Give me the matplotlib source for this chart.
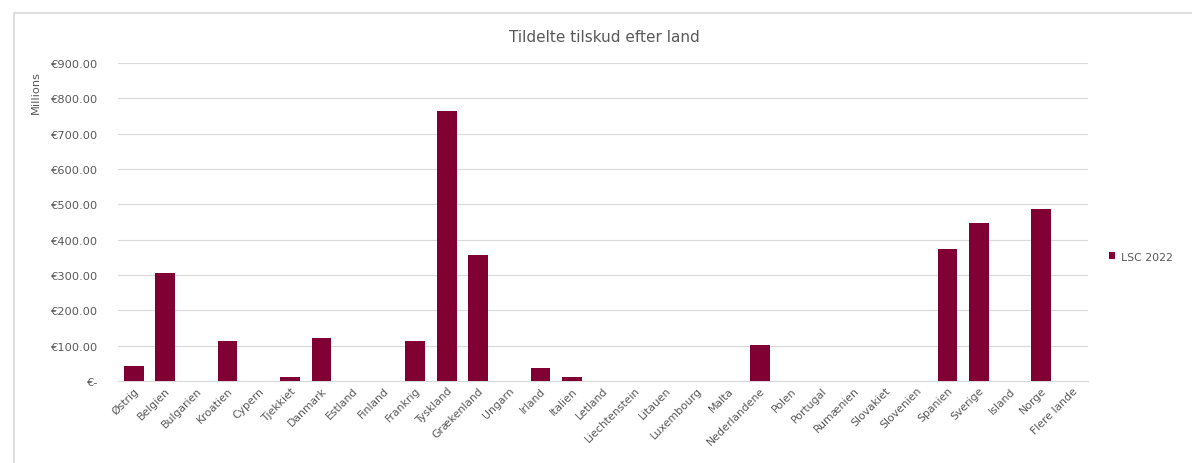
import matplotlib.pyplot as plt
from matplotlib.patches import Rectangle
from matplotlib.ticker import FuncFormatter

plt.rcParams['font.family'] = ['DejaVu Sans']

lande = ['Østrig', 'Belgien', 'Bulgarien', 'Kroatien', 'Cypern', 'Tjekkiet', 'Danmark',
         'Estland', 'Finland', 'Frankrig', 'Tyskland', 'Grækenland', 'Ungarn', 'Irland',
         'Italien', 'Letland', 'Liechtenstein', 'Litauen', 'Luxembourg', 'Malta',
         'Nederlandene', 'Polen', 'Portugal', 'Rumænien', 'Slovakiet', 'Slovenien',
         'Spanien', 'Sverige', 'Island', 'Norge', 'Flere lande']
lsc_2022 = [42, 306, 0, 113, 0, 11, 122, 0, 0, 113, 764, 357, 0, 37, 11, 0, 0, 0, 0, 0,
            102, 0, 0, 0, 0, 0, 374, 447, 0, 487, 0]

grey = '#595959'
fig = plt.figure(figsize=(11.92, 4.64), dpi=100)
ax = fig.add_axes([0.099, 0.177, 0.814, 0.685])

ax.bar(range(len(lande)), lsc_2022, width=0.63, color='#800033', label='LSC 2022', zorder=3)

ax.set_xlim(-0.5, len(lande) - 0.5)
ax.set_ylim(0, 900)
ax.set_yticks(range(0, 901, 100))
ax.yaxis.set_major_formatter(FuncFormatter(lambda v, p: '€-' if v == 0 else f'€{v:.2f}'))
ax.grid(axis='y', color='#d9d9d9', linewidth=0.8, zorder=0)
for s in ['top', 'right', 'left']:
    ax.spines[s].set_visible(False)
ax.spines['bottom'].set_color('#d9d9d9')
ax.tick_params(axis='y', length=0, labelsize=8.2, labelcolor=grey, pad=14)
ax.tick_params(axis='x', length=0, labelsize=7.8, labelcolor=grey, pad=3)
ax.set_xticks(range(len(lande)))
ax.set_xticklabels(lande, rotation=45, ha='right', rotation_mode='anchor')
ax.set_ylabel('Millions', fontsize=8.2, color=grey)
ax.yaxis.set_label_coords(-0.079, 0.91)

fig.text(0.507, 0.92, 'Tildelte tilskud efter land', ha='center', va='center',
         fontsize=11, color=grey)
fig.legend(loc='center left', bbox_to_anchor=(0.922, 0.445), frameon=False,
           fontsize=7.8, labelcolor=grey, handlelength=0.6, handleheight=0.6,
           handletextpad=0.5)

fig.patches.append(Rectangle((0.012, -0.1), 1.5, 1.07, transform=fig.transFigure,
                             fill=False, edgecolor='#d9d9d9', linewidth=1.2))

fig.savefig('out.png', dpi=100)
